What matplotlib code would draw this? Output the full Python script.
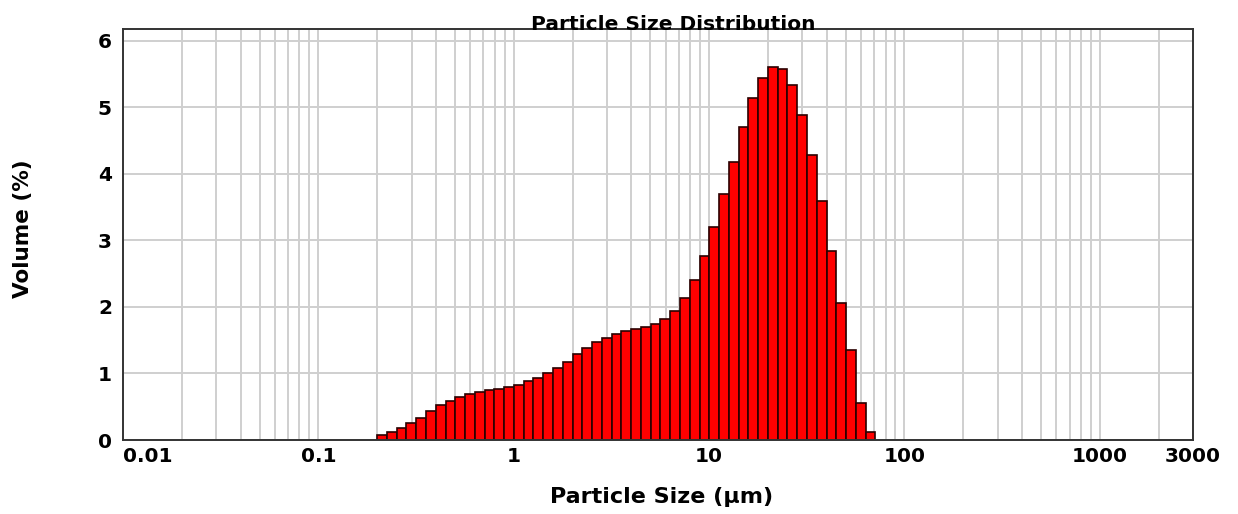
import numpy as np
import matplotlib
matplotlib.use("Agg")
import matplotlib.pyplot as plt
from matplotlib.ticker import LogLocator, NullFormatter, FixedLocator

# Size classes (um), log-spaced edges 0.2 -> 71 um, 0.05 decade per class
bin_lo = 0.2
bin_hi = 71.0
n_bins = 51

# Volume (%) in each class
volume = [0.08, 0.12, 0.18, 0.25, 0.33, 0.44, 0.53, 0.59, 0.65, 0.69,
          0.72, 0.75, 0.77, 0.79, 0.83, 0.88, 0.93, 1.00, 1.09, 1.18,
          1.30, 1.39, 1.47, 1.54, 1.60, 1.64, 1.665, 1.70, 1.74, 1.82,
          1.94, 2.13, 2.41, 2.77, 3.21, 3.70, 4.18, 4.71, 5.14, 5.44,
          5.61, 5.58, 5.34, 4.89, 4.28, 3.60, 2.84, 2.06, 1.36, 0.55,
          0.12]

x_ticks = [0.01, 0.1, 1, 10, 100, 1000, 3000]
x_tick_labels = ["0.01", "0.1", "1", "10", "100", "1000", "3000"]
y_ticks = [0, 1, 2, 3, 4, 5, 6]

edges = np.logspace(np.log10(bin_lo), np.log10(bin_hi), n_bins + 1)
widths = np.diff(edges)

fig = plt.figure(figsize=(12.38, 5.14), dpi=100)
ax = fig.add_axes([123 / 1238, 1 - 440 / 514, (1193 - 123) / 1238, (440 - 29) / 514])

ax.set_xscale("log")
ax.set_xlim(0.01, 3000)
ax.set_ylim(0, 6.18)

# grid first so bars sit on top
ax.set_axisbelow(True)
ax.xaxis.set_minor_locator(LogLocator(base=10, subs=np.arange(2, 10)))
ax.xaxis.set_minor_formatter(NullFormatter())
ax.grid(True, which="both", axis="x", color="#cfcfcf", linewidth=1.4)
ax.grid(True, which="major", axis="y", color="#cfcfcf", linewidth=1.4)

ax.bar(edges[:-1], volume, width=widths, align="edge",
       color="#ff0000", edgecolor="#2a0000", linewidth=1.2)

ax.xaxis.set_major_locator(FixedLocator(x_ticks))
ax.set_xticklabels(x_tick_labels)
ax.set_yticks(y_ticks)
ax.tick_params(axis="both", which="both", length=0, labelsize=14.5)
ax.tick_params(axis="x", pad=5)
ax.tick_params(axis="y", pad=8)
for lab in ax.get_xticklabels() + ax.get_yticklabels():
    lab.set_fontweight("bold")
ax.get_xticklabels()[0].set_horizontalalignment("left")

for sp in ax.spines.values():
    sp.set_color("#333333")
    sp.set_linewidth(1.4)

fig.text(673 / 1238, 1 - 30 / 514, "Particle Size Distribution",
         ha="center", va="baseline", fontsize=14.5, fontweight="bold")
fig.text(662 / 1238, 1 - 497 / 514, "Particle Size (\u00b5m)",
         ha="center", va="center", fontsize=16, fontweight="bold")
fig.text(23 / 1238, 1 - 229 / 514, "Volume (%)", rotation=90,
         ha="center", va="center", fontsize=15.5, fontweight="bold")

fig.savefig("out.png", dpi=100)
